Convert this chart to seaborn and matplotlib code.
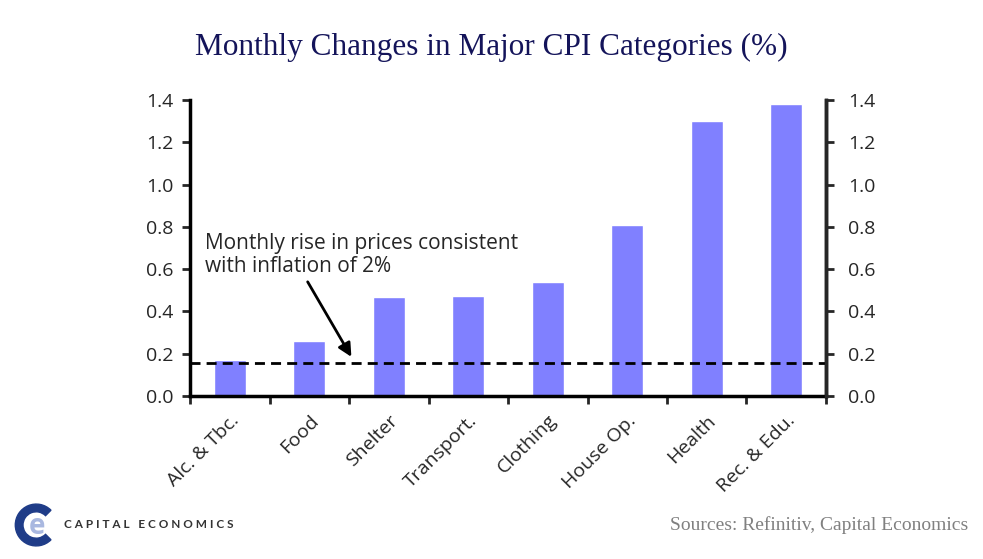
import numpy as np
import matplotlib
matplotlib.use('Agg')
import matplotlib.pyplot as plt
import seaborn as sns
from matplotlib.patches import Wedge

categories = ['Alc. & Tbc.', 'Food', 'Shelter', 'Transport.', 'Clothing',
              'House Op.', 'Health', 'Rec. & Edu.']
values = [0.17, 0.26, 0.47, 0.475, 0.54, 0.81, 1.30, 1.38]
target_line = 0.155
y_ticks = [0.0, 0.2, 0.4, 0.6, 0.8, 1.0, 1.2, 1.4]

sns.set_style('white')
plt.rcParams['font.family'] = ['Open Sans', 'DejaVu Sans']

fig = plt.figure(figsize=(9.83, 5.59), dpi=100)
ax = fig.add_axes([190 / 983, 1 - 396 / 559, 636 / 983, 296 / 559])

sns.barplot(x=categories, y=values, color='#8080FF', saturation=1,
            width=0.4, ax=ax)
ax.axhline(target_line, color='black', ls=(0, (3.6, 2.2)), lw=2)

ax.set_xlim(-0.5, len(categories) - 0.5)
ax.set_ylim(0, 1.4)
ax.set_yticks(y_ticks)
ax.set_yticklabels([f'{v:.1f}' for v in y_ticks], fontsize=14)
ax.set_xticks(range(len(categories)))
ax.set_xticklabels(categories, rotation=45, ha='right', rotation_mode='anchor',
                   fontsize=14)
ax.set_xticks(np.arange(-0.5, len(categories), 1), minor=True)
ax.tick_params(axis='x', which='major', length=0, pad=11)
ax.tick_params(axis='x', which='minor', length=6, width=2, direction='out',
               bottom=True)
ax.tick_params(axis='y', length=6, width=2, direction='out', left=True, pad=6)
ax.set_xlabel('')
ax.set_ylabel('')
ax.spines['top'].set_visible(False)
for side in ['left', 'right', 'bottom']:
    ax.spines[side].set_linewidth(2.5)
    ax.spines[side].set_color('black')

ax2 = ax.twinx()
ax2.set_ylim(0, 1.4)
ax2.set_yticks(y_ticks)
ax2.set_yticklabels([f'{v:.1f}' for v in y_ticks], fontsize=14)
ax2.tick_params(axis='y', length=6, width=2, direction='out', right=True, pad=10)
for side in ['top', 'left', 'bottom']:
    ax2.spines[side].set_visible(False)
ax2.spines['right'].set_linewidth(2.5)

ax.text(-0.31, 0.668, 'Monthly rise in prices consistent\nwith inflation of 2%',
        fontsize=15, ha='left', va='center', linespacing=1.15)
ax.annotate('', xy=(1.53, 0.185), xytext=(0.98, 0.54),
            arrowprops=dict(arrowstyle='-|>', color='black', lw=2,
                            mutation_scale=20, shrinkA=0, shrinkB=0))

fig.text(0.5, 1 - 47 / 559, 'Monthly Changes in Major CPI Categories (%)',
         ha='center', va='center', fontsize=22.5, color='#14145A',
         family='Liberation Serif')
fig.text(968 / 983, 1 - 525 / 559, 'Sources: Refinitiv, Capital Economics',
         ha='right', va='center', fontsize=14, color='#808080',
         family='Liberation Serif')

# logo
lax = fig.add_axes([12 / 983, 1 - 547 / 559, 44 / 983, 44 / 559])
lax.set_xlim(-1, 1)
lax.set_ylim(-1, 1)
lax.set_aspect('equal')
lax.axis('off')
lax.add_patch(Wedge((0.1, 0), 0.95, 45, 315, width=0.35, color='#1F3C88'))
lax.text(0.15, -0.05, 'e', fontsize=20, color='#A9B8E0', ha='center',
         va='center', fontweight='bold')
fig.text(64 / 983, 1 - 524 / 559, 'C A P I T A L   E C O N O M I C S',
         ha='left', va='center', fontsize=8.5, color='#333333',
         fontweight='bold', family='Lato')

fig.savefig('out.png', dpi=100)
